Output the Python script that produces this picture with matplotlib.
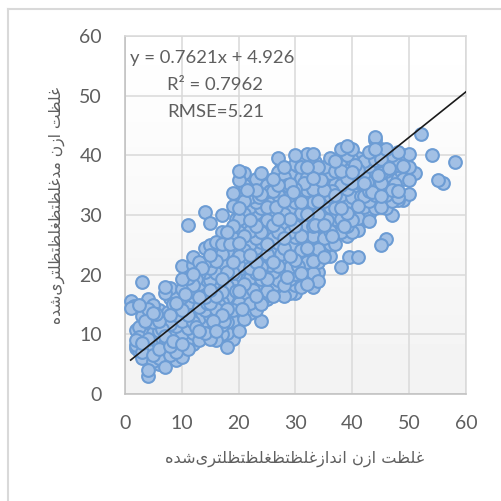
import numpy as np
import matplotlib
matplotlib.use('Agg')
import matplotlib.pyplot as plt

# -------------------------- data --------------------------
x_columns = [1, 1.5, 2, 2.5, 3, 4, 5, 6, 7, 8, 9, 10, 11, 12, 13, 14, 15, 16, 17, 18, 19, 20,
             21, 22, 23, 24, 25, 26, 27, 28, 29, 30, 31, 32, 33, 34, 35, 36, 37, 38, 39, 39.5,
             40, 41, 42, 43, 44, 45, 46, 47, 48, 49, 50, 51, 52, 54, 55, 56, 58]
y_columns = [
    [15.6, 14.4],
    [14.8],
    [10.8, 9.1, 8.2, 7.7],
    [15, 9.6, 7.2],
    [18.8, 13.1, 10.2, 8.6, 7.1, 6.1],
    [15.9, 14.2, 12.8, 11.2, 9.3, 7.4, 6.2, 4.1, 3],
    [15, 13.6, 12.1, 10.3, 8.2, 6.6, 5.5],
    [14.1, 12.3, 10.6, 9.2, 7.5, 6.1, 5.1],
    [18, 17, 12.6, 11.1, 9.7, 8.3, 6.3, 4.5],
    [17.8, 16.1, 13.2, 11.7, 10.2, 8.1, 6.6],
    [17, 15.2, 13.3, 11.4, 9.2, 7.1, 5.7],
    [21.5, 19.2, 17.6, 16.3, 14.1, 12.2, 10.1, 8.3, 6.2],
    [28.3, 21, 19.4, 17.1, 15.3, 13.2, 11.1, 9.3, 7.6],
    [23, 21.6, 20.1, 18.2, 16.4, 14.3, 12.1, 10.2, 8.3],
    [22.2, 20.3, 18.4, 16.2, 14.6, 12.7, 10.6, 9],
    [30.5, 24.5, 22.1, 20.4, 18.2, 16.3, 14.1, 12.3, 10.2],
    [28.7, 25, 23.3, 21.2, 19.1, 17.4, 15.2, 13.1, 11.3, 9.2],
    [25.5, 24.1, 22.3, 20.2, 18.1, 16.4, 14.2, 12.3, 10.6, 9],
    [30, 27.2, 25.1, 23.4, 21.2, 19.3, 17.1, 15.4, 13.2, 11.6, 10],
    [27.1, 25.3, 24, 22.2, 20.4, 18.1, 16.3, 14.2, 12.1, 10.2, 7.9],
    [33.7, 31.5, 28.2, 26.1, 24.3, 22.1, 20.3, 18.2, 16.4, 14.1, 12.3, 9.2],
    [37.3, 35.8, 33.1, 31.2, 29.4, 27.1, 25.3, 23.2, 21.4, 19.1, 17.3, 15.2, 13.1, 10.5],
    [37, 35.1, 32.3, 30.2, 28.1, 26.4, 24.2, 22.3, 20.1, 18.4, 16.2, 14.3, 12.5],
    [33, 31.3, 29.2, 27.4, 25.1, 23.3, 21.2, 19.4, 17.1, 15.3, 13.5],
    [36, 34.2, 32.1, 30.4, 28.2, 26.1, 24.4, 22.2, 20.3, 18.1, 16.4, 14.1],
    [37, 35.5, 33.5, 31.1, 29.3, 27.2, 25.4, 23.1, 21.3, 19.2, 17.4, 15.1, 12.3],
    [35, 33.2, 31.4, 29.1, 27.3, 25.2, 23.4, 21.1, 19.3, 17.2, 16],
    [36, 34.1, 32.3, 30.2, 28.4, 26.1, 24.3, 22.2, 20.4, 18.1, 16.5],
    [39.5, 37.2, 35.1, 33.3, 31.2, 29.4, 27.1, 25.3, 23.2, 21.4, 19.1, 17],
    [38, 36.3, 34.2, 32.4, 30.1, 28.3, 26.2, 24.4, 22.1, 20.3, 18.2, 16.5],
    [37, 35.2, 33.4, 31.1, 29.3, 27.2, 25.4, 23.1, 21.3, 19.2, 17],
    [40, 38.5, 36.1, 34.3, 32.2, 30.4, 28.1, 26.3, 24.2, 22.4, 20.1, 18.3, 17],
    [38, 36.2, 34.4, 32.1, 30.3, 28.2, 26.4, 24.1, 22.3, 20.2, 18],
    [40.3, 38.1, 36.3, 34.2, 32.4, 30.1, 28.3, 26.2, 24.4, 22.1, 20.3, 18.5],
    [40.3, 38.5, 36.2, 34.4, 32.1, 30.3, 28.2, 26.4, 24.1, 22.3, 20.2, 18],
    [38, 36.4, 34.1, 32.3, 30.2, 28.4, 26.1, 24.3, 22.2, 20.4, 19],
    [38, 36.5, 34.2, 32.4, 30.1, 28.3, 26.2, 24.5, 23],
    [39.5, 37.1, 35.3, 33.2, 31.4, 29.1, 27.3, 25.2, 23.2],
    [39, 37.3, 35.2, 33.4, 31.1, 29.3, 27.2, 25.1],
    [41, 39.2, 37.4, 35.1, 33.3, 31.2, 29.4, 27.1, 21.3],
    [41.6, 40.1, 38.3, 36.2, 34.4, 32.1, 30.3, 28.2, 26.5],
    [23],
    [41, 39.3, 37.2, 35.4, 33.1, 31.3, 29.2, 27.2],
    [39.5, 37.5, 35.5, 33.5, 31.5, 29.5, 27.5, 23],
    [39, 37.1, 35.3, 33.2, 31.4, 29.1],
    [40.5, 38.2, 36.4, 34.1, 32.3, 30.2, 29],
    [43, 42.5, 41.1, 39.2, 37.4, 35.1, 33.3, 31.2],
    [41, 39.4, 37.1, 35.3, 33.2, 31.4, 25],
    [41, 39.5, 37.3, 35.2, 33.4, 31.1, 26],
    [40, 38.1, 36.3, 34.2, 32.4, 30],
    [40.5, 38.3, 36.2, 34.1, 33, 32.5],
    [40, 38.2, 36.1, 32.5],
    [40.3, 38.1, 37, 35.8, 33.5],
    [37],
    [43.5],
    [40],
    [35.8],
    [35.3],
    [38.8],
]
# second pass: points between the columns where the cloud is thick
x_extra = [2.5, 3.5, 3.5, 4.5, 5.5, 5.5, 6.5, 7.5, 8.5, 8.5, 9.5, 10.5, 10.5, 11.5, 11.5, 12.5,
           12.5, 13.5, 13.5, 14.5, 14.5, 15.5, 15.5, 16.5, 16.5, 17.5, 17.5, 18.5, 18.5, 19.5,
           19.5, 20.5, 20.5, 21.5, 21.5, 22.5, 22.5, 23.5, 23.5, 24.5, 24.5, 25.5, 25.5, 26.5,
           26.5, 27.5, 27.5, 28.5, 28.5, 29.5, 29.5, 30.5, 30.5, 31.5, 31.5, 32.5, 32.5, 33.5,
           33.5, 34.5, 34.5, 35.5, 35.5, 36.5, 36.5, 37.5, 37.5, 38.5, 38.5, 40.5, 40.5, 41.5,
           42.5, 43.5, 44.5, 45.5, 46.5, 47.5, 48.5]
y_extra = [11.3, 8.9, 12.2, 8.4, 9.5, 13.4, 10.9, 13.8, 8.9, 15.1, 12.4, 9.2, 16.8, 12.9, 18.1,
           11.3, 19.3, 13.5, 21.1, 15.2, 19.1, 12.2, 22.4, 14.9, 23.1, 12.3, 21.8, 15.4, 25.2,
           17.2, 29.3, 14.2, 30.3, 19.2, 34.2, 17.4, 27.8, 20.3, 33.1, 16.2, 28.3, 21.7, 34.1,
           18.9, 31.4, 23.5, 37.8, 19.6, 35.1, 25.2, 33.9, 21.4, 38.2, 26.3, 35.4, 23.1, 37.1,
           28.4, 38.9, 24.7, 35.8, 29.2, 37.4, 26.4, 34.1, 30.6, 38.3, 28.1, 36.2, 30.9, 38.4,
           33.2, 35.6, 33.9, 36.7, 32.2, 37.9, 35.2, 37.4]
x_ticks = [0, 10, 20, 30, 40, 50, 60]
y_ticks = [0, 10, 20, 30, 40, 50, 60]
slope = 0.7621
intercept = 4.926
x_label = 'غلظت ازن اندازغلظتظغلظتظلتری\u200cشده'
y_label = 'غلظت ازن مدغلظتظغلظتظلتری\u200cشده'

# isolated, final, initial, medial (matplotlib does not join arabic letters itself)
FORMS = {'غ': 'ﻍﻎﻏﻐ', 'ل': 'ﻝﻞﻟﻠ', 'ظ': 'ﻅﻆﻇﻈ', 'ت': 'ﺕﺖﺗﺘ', 'ن': 'ﻥﻦﻧﻨ', 'م': 'ﻡﻢﻣﻤ',
         'ی': '\ufbfc\ufbfd\ufbfe\ufbff', 'ش': 'ﺵﺶﺷﺸ', 'ه': 'ﻩﻪﻫﻬ',
         'ا': 'ﺍﺎ', 'ز': 'ﺯﺰ', 'د': 'ﺩﺪ', 'ر': 'ﺭﺮ'}


def shape(s):
    out = []
    for i, c in enumerate(s):
        if c not in FORMS:
            if c == ' ':
                out.append(c)
            continue
        prev = s[i - 1] if i > 0 else ''
        nxt = s[i + 1] if i < len(s) - 1 else ''
        join_prev = prev in FORMS and len(FORMS[prev]) == 4
        join_next = nxt in FORMS and len(FORMS[c]) == 4
        idx = {(0, 0): 0, (1, 0): 1, (0, 1): 2, (1, 1): 3}[(int(join_prev), int(join_next))]
        out.append(FORMS[c][idx])
    return ''.join(reversed(out))


plt.rcParams['font.family'] = ['Lato', 'DejaVu Sans']
GREY = '#5f5f5f'

xs = np.concatenate([[x] * len(y) for x, y in zip(x_columns, y_columns)] + [x_extra])
ys = np.concatenate(y_columns + [y_extra])
# mix the drawing order so that the overlaps don't look like shingles
order = (np.arange(len(xs)) * 97) % len(xs)

fig = plt.figure(figsize=(5.02, 5.01), dpi=100)
ax = fig.add_axes([125 / 502, 1 - 394 / 501, 341 / 502, 358 / 501])

# plot area fades from white to light grey
ax.imshow(np.linspace(1.0, 0.95, 100).reshape(-1, 1), cmap='gray', vmin=0, vmax=1,
          extent=[0, 60, 0, 60], aspect='auto', zorder=0)
ax.set_xlim(0, 60)
ax.set_ylim(0, 60)
ax.set_xticks(x_ticks)
ax.set_yticks(y_ticks)
ax.grid(True, color='#d9d9d9', lw=1.1, zorder=1)
ax.set_axisbelow(True)
ax.tick_params(length=0, labelsize=14, labelcolor=GREY)
ax.tick_params(axis='x', pad=15)
ax.tick_params(axis='y', pad=16.5)
for name, sp in ax.spines.items():
    sp.set_color('#bfbfbf' if name in ('left', 'bottom') else '#d9d9d9')
    sp.set_linewidth(1.1)

ax.scatter(xs[order], ys[order], s=84, facecolor='#a2c0e5', edgecolor='#6c9cd4', linewidth=1.5,
           zorder=3, clip_on=False)

line_x = np.array([1, 60])
ax.plot(line_x, slope * line_x + intercept, color='#1a1a1a', lw=1.2, zorder=4)

fig.text(130 / 502, 1 - 58 / 501, 'y = 0.7621x + 4.926', fontsize=13.3, color=GREY, va='center')
fig.text(167 / 502, 1 - 85 / 501, 'R² = 0.7962', fontsize=13.3, color=GREY, va='center')
fig.text(167 / 502, 1 - 112 / 501, 'RMSE=5.21', fontsize=13.3, color=GREY, va='center')

fig.text(295 / 502, 1 - 459 / 501, shape(x_label), family='DejaVu Sans', fontsize=11.6, color=GREY,
         ha='center', va='center')
fig.text(57 / 502, 1 - 205 / 501, shape(y_label), family='DejaVu Sans', fontsize=11.2, color=GREY,
         rotation=90, ha='center', va='center')

# chart frame, only the top and left edges show in the crop
fig.add_artist(plt.Line2D([8 / 502, 8 / 502], [0, 1 - 9 / 501], color='#d9d9d9', lw=1.5))
fig.add_artist(plt.Line2D([8 / 502, 1], [1 - 9 / 501, 1 - 9 / 501], color='#d9d9d9', lw=1.5))

fig.savefig('out.png', dpi=100)
